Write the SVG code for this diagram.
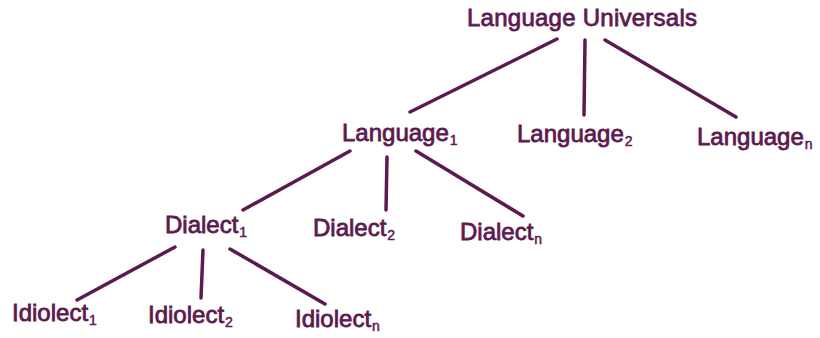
<svg xmlns="http://www.w3.org/2000/svg" width="820" height="338" viewBox="0 0 820 338">
  <style>
    .lbl { font-family: "Liberation Sans", Arial, sans-serif; font-size: 24px; fill: #5c1a4e; stroke: #5c1a4e; stroke-width: 0.8; }
    .sub { font-size: 14px; stroke-width: 0.5; }
    .edge { stroke: #5c1a4e; stroke-width: 3.5; stroke-linecap: round; fill: none; }
  </style>
  <rect width="820" height="338" fill="#ffffff"/>

  <g id="connectors">
    <!-- Language Universals to languages -->
    <line class="edge" x1="557" y1="39" x2="410" y2="112"/>
    <line class="edge" x1="585" y1="40" x2="584" y2="115"/>
    <line class="edge" x1="605" y1="40" x2="736" y2="117"/>
    <!-- Language1 to dialects -->
    <line class="edge" x1="350" y1="151" x2="243" y2="210"/>
    <line class="edge" x1="387" y1="157" x2="386" y2="210"/>
    <line class="edge" x1="416" y1="151" x2="523" y2="216"/>
    <!-- Dialect1 to idiolects -->
    <line class="edge" x1="175" y1="247" x2="77" y2="300"/>
    <line class="edge" x1="203" y1="250" x2="201" y2="298"/>
    <line class="edge" x1="230" y1="249" x2="325" y2="304"/>
  </g>

  <g id="language-universals">
    <text class="lbl" x="467" y="26" textLength="230">Language Universals</text>
  </g>

  <g id="language-1">
    <text class="lbl" x="342" y="141">Language<tspan class="sub" dx="1" dy="4">1</tspan></text>
  </g>
  <g id="language-2">
    <text class="lbl" x="517" y="142">Language<tspan class="sub" dx="1" dy="4">2</tspan></text>
  </g>
  <g id="language-n">
    <text class="lbl" x="697" y="145">Language<tspan class="sub" dx="1" dy="4">n</tspan></text>
  </g>

  <g id="dialect-1">
    <text class="lbl" x="165" y="233">Dialect<tspan class="sub" dx="1" dy="4">1</tspan></text>
  </g>
  <g id="dialect-2">
    <text class="lbl" x="313" y="236">Dialect<tspan class="sub" dx="1" dy="4">2</tspan></text>
  </g>
  <g id="dialect-n">
    <text class="lbl" x="460" y="240">Dialect<tspan class="sub" dx="1" dy="4">n</tspan></text>
  </g>

  <g id="idiolect-1">
    <text class="lbl" x="12" y="321">Idiolect<tspan class="sub" dx="1" dy="4">1</tspan></text>
  </g>
  <g id="idiolect-2">
    <text class="lbl" x="148" y="323">Idiolect<tspan class="sub" dx="1" dy="4">2</tspan></text>
  </g>
  <g id="idiolect-n">
    <text class="lbl" x="295" y="327">Idiolect<tspan class="sub" dx="1" dy="4">n</tspan></text>
  </g>
</svg>
